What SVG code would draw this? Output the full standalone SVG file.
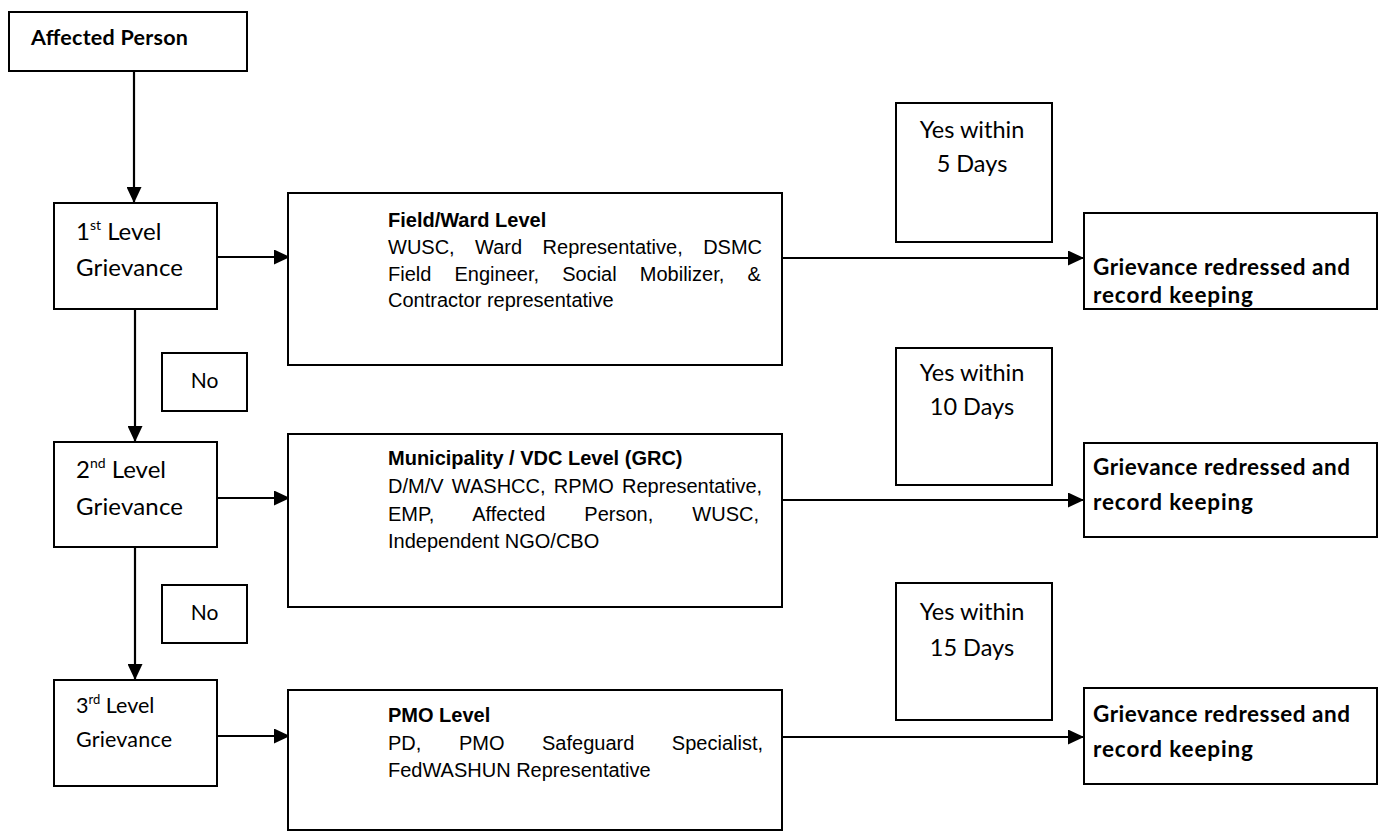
<svg xmlns="http://www.w3.org/2000/svg" width="1383" height="832" viewBox="0 0 1383 832">
<style>
.box{fill:#fff;stroke:#000;stroke-width:2}
.cal{font-family:Lato,"Open Sans",sans-serif;fill:#000}
.b{font-weight:bold}
.ar{font-family:"Liberation Sans",Arial,sans-serif;font-size:20px;fill:#000}
.lvl{font-size:24px}
.lvl3{font-size:21.5px}
.yes{font-size:23.5px;text-anchor:middle}
.res{font-size:22.5px;font-weight:bold}
.no{font-size:21px;text-anchor:middle}
.conn line{stroke:#000;stroke-width:2.2;fill:none}
</style>
<defs>
<marker id="ah" markerUnits="userSpaceOnUse" markerWidth="17" markerHeight="15" refX="16" refY="7.5" orient="auto">
<path d="M0,0 L16,7.5 L0,15 Z" fill="#000"/>
</marker>
</defs>
<rect width="1383" height="832" fill="#fff"/>

<g class="conn">
<line x1="134" y1="71" x2="134" y2="203" marker-end="url(#ah)"/>
<line x1="135" y1="309" x2="135" y2="442" marker-end="url(#ah)"/>
<line x1="135" y1="547" x2="135" y2="680" marker-end="url(#ah)"/>
<line x1="217" y1="257" x2="290" y2="257" marker-end="url(#ah)"/>
<line x1="217" y1="498" x2="290" y2="498" marker-end="url(#ah)"/>
<line x1="217" y1="736" x2="290" y2="736" marker-end="url(#ah)"/>
<line x1="782" y1="258" x2="1084" y2="258" marker-end="url(#ah)"/>
<line x1="782" y1="500" x2="1084" y2="500" marker-end="url(#ah)"/>
<line x1="782" y1="737" x2="1084" y2="737" marker-end="url(#ah)"/>
</g>

<g id="affected">
<rect class="box" x="9" y="12" width="238" height="59"/>
<text class="cal b" x="31" y="45" font-size="21.5" textLength="157">Affected Person</text>
</g>

<g id="level1">
<rect class="box" x="54" y="203" width="163" height="106"/>
<text class="cal lvl" x="76" y="240">1<tspan font-size="14" dy="-10">st</tspan><tspan dy="10"> Level</tspan></text>
<text class="cal lvl" x="76" y="276" textLength="107">Grievance</text>
</g>

<g id="no1">
<rect class="box" x="162" y="353" width="85" height="58"/>
<text class="cal no" x="204.5" y="388">No</text>
</g>

<g id="level2">
<rect class="box" x="54" y="442" width="163" height="105"/>
<text class="cal lvl" x="76" y="478">2<tspan font-size="14" dy="-10">nd</tspan><tspan dy="10"> Level</tspan></text>
<text class="cal lvl" x="76" y="515" textLength="107">Grievance</text>
</g>

<g id="no2">
<rect class="box" x="162" y="585" width="85" height="58"/>
<text class="cal no" x="204.5" y="620">No</text>
</g>

<g id="level3">
<rect class="box" x="54" y="680" width="163" height="106"/>
<text class="cal lvl3" x="76" y="713">3<tspan font-size="13" dy="-9">rd</tspan><tspan dy="9"> Level</tspan></text>
<text class="cal lvl3" x="76" y="747" textLength="96">Grievance</text>
</g>

<g id="field">
<rect class="box" x="288" y="193" width="494" height="172"/>
<text class="ar b" x="388" y="227">Field/Ward Level</text>
<text class="ar" x="388" y="254" word-spacing="14.9">WUSC, Ward Representative, DSMC</text>
<text class="ar" x="388" y="281" word-spacing="17.6">Field Engineer, Social Mobilizer, &amp;</text>
<text class="ar" x="388" y="307">Contractor representative</text>
</g>

<g id="municipality">
<rect class="box" x="288" y="434" width="494" height="173"/>
<text class="ar b" x="388" y="465">Municipality / VDC Level (GRC)</text>
<text class="ar" x="388" y="493" word-spacing="2.7">D/M/V WASHCC, RPMO Representative,</text>
<text class="ar" x="388" y="521" word-spacing="33.5">EMP, Affected Person, WUSC,</text>
<text class="ar" x="388" y="548">Independent NGO/CBO</text>
</g>

<g id="pmo">
<rect class="box" x="288" y="690" width="494" height="140"/>
<text class="ar b" x="388" y="722">PMO Level</text>
<text class="ar" x="388" y="750" word-spacing="32">PD, PMO Safeguard Specialist,</text>
<text class="ar" x="388" y="777">FedWASHUN Representative</text>
</g>

<g id="yes5">
<rect class="box" x="896" y="103" width="156" height="139"/>
<text class="cal yes" x="972" y="138">Yes within</text>
<text class="cal yes" x="972" y="172">5 Days</text>
</g>

<g id="yes10">
<rect class="box" x="896" y="348" width="156" height="137"/>
<text class="cal yes" x="972" y="381">Yes within</text>
<text class="cal yes" x="972" y="415">10 Days</text>
</g>

<g id="yes15">
<rect class="box" x="896" y="583" width="156" height="137"/>
<text class="cal yes" x="972" y="620">Yes within</text>
<text class="cal yes" x="972" y="656">15 Days</text>
</g>

<g id="result1">
<rect class="box" x="1084" y="213" width="293" height="96"/>
<text class="cal res" x="1093" y="275" textLength="257">Grievance redressed and</text>
<text class="cal res" x="1093" y="303" textLength="160">record keeping</text>
</g>

<g id="result2">
<rect class="box" x="1084" y="443" width="293" height="94"/>
<text class="cal res" x="1093" y="475" textLength="257">Grievance redressed and</text>
<text class="cal res" x="1093" y="510" textLength="160">record keeping</text>
</g>

<g id="result3">
<rect class="box" x="1084" y="688" width="293" height="96"/>
<text class="cal res" x="1093" y="722" textLength="257">Grievance redressed and</text>
<text class="cal res" x="1093" y="757" textLength="160">record keeping</text>
</g>
</svg>
